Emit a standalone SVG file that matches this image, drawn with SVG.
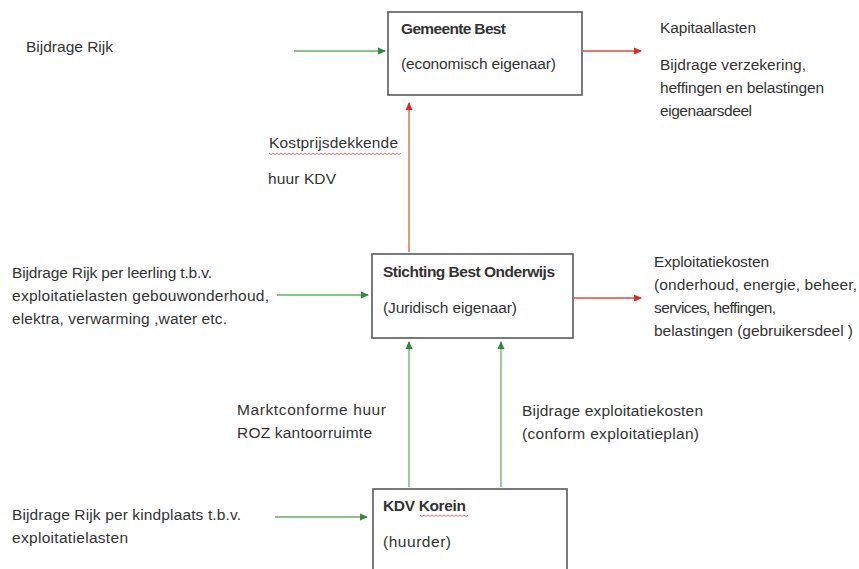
<svg xmlns="http://www.w3.org/2000/svg" width="859" height="569" viewBox="0 0 859 569">
<style>
text{font-family:"Liberation Sans",Arial,sans-serif;font-size:15.5px;fill:#333}
.b{font-weight:bold}
.box{fill:#fff;stroke:#595959;stroke-width:1.6}
.g{stroke:#66b066;stroke-width:1.3;fill:none}
.r{stroke:#e04848;stroke-width:1.3;fill:none}
.rr{stroke:#d9825a;stroke-width:1.6;fill:none}
.sq{stroke:#e05050;stroke-width:0.8;fill:none}
</style>
<defs>
<marker id="ag" markerWidth="8" markerHeight="8" refX="7" refY="4" orient="auto" markerUnits="userSpaceOnUse"><path d="M0,0.5 L8,4 L0,7.5 Z" fill="#2e8b3e"/></marker>
<marker id="ar" markerWidth="8" markerHeight="8" refX="7" refY="4" orient="auto" markerUnits="userSpaceOnUse"><path d="M0,0.5 L8,4 L0,7.5 Z" fill="#e02828"/></marker>
</defs>
<rect width="859" height="569" fill="#fff"/>
<g id="connectors">
<line class="g" x1="294" y1="51" x2="385" y2="51" marker-end="url(#ag)"/>
<line class="r" x1="583" y1="51" x2="641" y2="51" marker-end="url(#ar)"/>
<line class="rr" x1="409" y1="252" x2="409" y2="103" marker-end="url(#ar)"/>
<line class="g" x1="277" y1="295" x2="368" y2="295" marker-end="url(#ag)"/>
<line class="r" x1="574" y1="298" x2="641" y2="298" marker-end="url(#ar)"/>
<line class="g" x1="409" y1="487" x2="409" y2="342" marker-end="url(#ag)"/>
<line class="g" x1="501" y1="487" x2="501" y2="342" marker-end="url(#ag)"/>
<line class="g" x1="275" y1="517" x2="367" y2="517" marker-end="url(#ag)"/>
</g>
<g id="gemeente-best">
<rect class="box" x="388" y="12" width="194" height="83"/>
<text class="b" x="401" y="34" textLength="105">Gemeente Best</text>
<text x="401" y="69" textLength="155">(economisch eigenaar)</text>
</g>
<g id="stichting-best-onderwijs">
<rect class="box" x="372" y="254" width="201" height="84"/>
<text class="b" x="383" y="277" textLength="172">Stichting Best Onderwijs</text>
<text x="383" y="313" textLength="134">(Juridisch eigenaar)</text>
</g>
<g id="kdv-korein">
<rect class="box" x="373" y="489" width="194" height="90"/>
<text class="b" x="383" y="511" textLength="83">KDV Korein</text>
<path class="sq" d="M420,515 l2,1.5 l2,-1.5 l2,1.5 l2,-1.5 l2,1.5 l2,-1.5 l2,1.5 l2,-1.5 l2,1.5 l2,-1.5 l2,1.5 l2,-1.5 l2,1.5 l2,-1.5 l2,1.5 l2,-1.5 l2,1.5 l2,-1.5 l2,1.5 l2,-1.5 l2,1.5 l2,-1.5 l2,1.5 l2,-1.5"/>
<text x="383" y="547" textLength="68">(huurder)</text>
</g>
<g id="labels">
<text x="26" y="52" textLength="87">Bijdrage Rijk</text>
<text x="660" y="33" textLength="96">Kapitaallasten</text>
<text x="660" y="70" textLength="146">Bijdrage verzekering,</text>
<text x="660" y="93" textLength="164">heffingen en belastingen</text>
<text x="660" y="116" textLength="92">eigenaarsdeel</text>
<text x="269" y="148" textLength="129">Kostprijsdekkende</text>
<path class="sq" d="M269,153 l2,1.5 l2,-1.5 l2,1.5 l2,-1.5 l2,1.5 l2,-1.5 l2,1.5 l2,-1.5 l2,1.5 l2,-1.5 l2,1.5 l2,-1.5 l2,1.5 l2,-1.5 l2,1.5 l2,-1.5 l2,1.5 l2,-1.5 l2,1.5 l2,-1.5 l2,1.5 l2,-1.5 l2,1.5 l2,-1.5 l2,1.5 l2,-1.5 l2,1.5 l2,-1.5 l2,1.5 l2,-1.5 l2,1.5 l2,-1.5 l2,1.5 l2,-1.5 l2,1.5 l2,-1.5 l2,1.5 l2,-1.5 l2,1.5 l2,-1.5 l2,1.5 l2,-1.5 l2,1.5 l2,-1.5 l2,1.5 l2,-1.5 l2,1.5 l2,-1.5 l2,1.5 l2,-1.5 l2,1.5 l2,-1.5 l2,1.5 l2,-1.5 l2,1.5 l2,-1.5 l2,1.5 l2,-1.5 l2,1.5 l2,-1.5 l2,1.5 l2,-1.5 l2,1.5 l2,-1.5 l2,1.5 l2,-1.5"/>
<text x="268" y="184" textLength="68">huur KDV</text>
<text x="12" y="278" textLength="200">Bijdrage Rijk per leerling t.b.v.</text>
<text x="12" y="301" textLength="257">exploitatielasten gebouwonderhoud,</text>
<text x="12" y="324" textLength="215">elektra, verwarming ,water etc.</text>
<text x="654" y="267" textLength="115">Exploitatiekosten</text>
<text x="654" y="290" textLength="203">(onderhoud, energie, beheer,</text>
<text x="654" y="313" textLength="122">services, heffingen,</text>
<text x="654" y="336" textLength="199">belastingen (gebruikersdeel )</text>
<text x="237" y="415" textLength="149">Marktconforme huur</text>
<text x="237" y="438" textLength="135">ROZ kantoorruimte</text>
<text x="522" y="416" textLength="181">Bijdrage exploitatiekosten</text>
<text x="522" y="439" textLength="177">(conform exploitatieplan)</text>
<text x="12" y="520" textLength="229">Bijdrage Rijk per kindplaats t.b.v.</text>
<text x="12" y="543" textLength="116">exploitatielasten</text>
</g>
</svg>
